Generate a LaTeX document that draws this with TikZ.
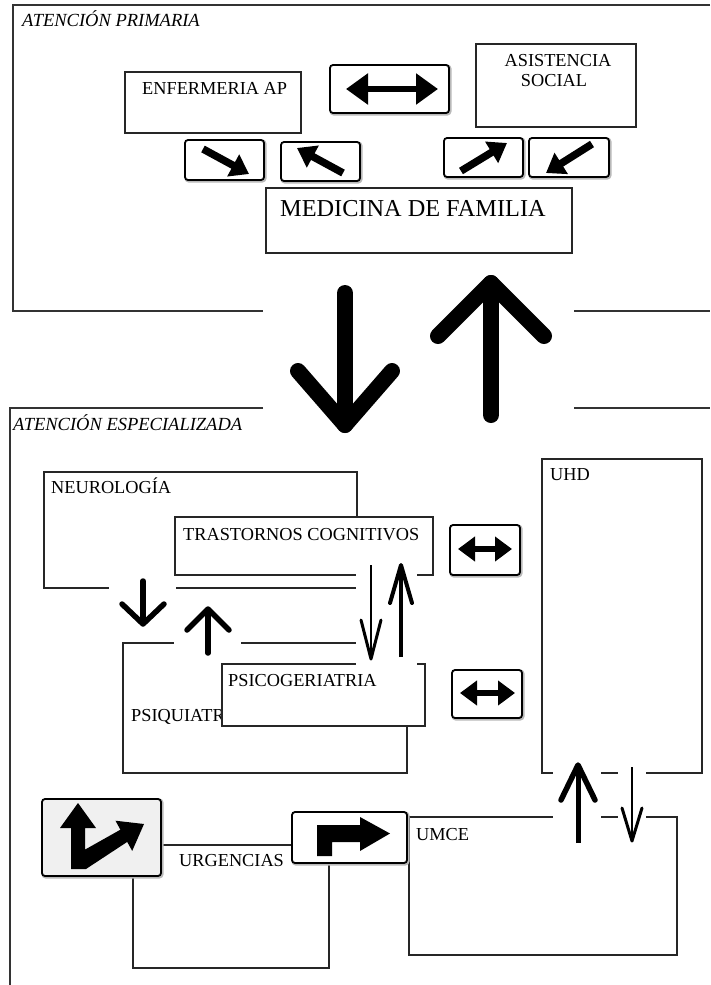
\documentclass[tikz,border=0pt]{standalone}
\usepackage{fontspec}
\setmainfont{Liberation Serif}
\usetikzlibrary{arrows.meta}
\newcommand{\signbox}[5][white]{%
  \draw[gray!55, line width=3.2pt, rounded corners=3pt] (#2+1,#3+1) rectangle (#4+1,#5+1);
  \draw[black, line width=1.8pt, rounded corners=3pt, fill=#1] (#2,#3) rectangle (#4,#5);}
\begin{document}
\begin{tikzpicture}[x=1pt,y=-1pt,
  frame/.style={draw=black!80, line width=1.4pt},
  box/.style={draw=black!85, line width=1.4pt, fill=white},
  lbl/.style={anchor=base west, inner sep=0pt, font=\fontsize{18.3}{20}\selectfont},
  clbl/.style={anchor=base, inner sep=0pt, font=\fontsize{18.3}{20}\selectfont},
  ttl/.style={anchor=base west, inner sep=0pt, font=\fontsize{18.5}{20}\selectfont\itshape},
  big/.style={line width=16pt, line cap=round, line join=round},
  midarr/.style={line width=5.5pt, line cap=round, line join=round},
  dbl/.style={line width=6pt, {Triangle[length=22pt,width=30pt]}-{Triangle[length=22pt,width=30pt]}},
  dbls/.style={line width=6.5pt, {Triangle[length=17pt,width=24pt]}-{Triangle[length=17pt,width=24pt]}},
  diag/.style={line width=7.5pt, -{Triangle[length=18pt,width=24pt]}}
]
\useasboundingbox (0,0) rectangle (710,985);
\fill[white] (0,0) rectangle (710,985);

% ---------- ATENCION PRIMARIA ----------
\draw[frame] (710,5) -- (13,5) -- (13,311) -- (263,311);
\draw[frame] (574,311) -- (710,311);
\node[ttl] (ap) at (22,27) {ATENCIÓN PRIMARIA};

\draw[box] (125,72) rectangle (301,133);
\node[lbl] (enf) at (142,94) {ENFERMERIA AP};
\draw[box] (476,44) rectangle (636,127);
\node[clbl] (asis1) at (558,66) {ASISTENCIA};
\node[clbl] (asis2) at (554,86) {SOCIAL};
\draw[box] (266,188) rectangle (572,253);
\node[lbl, font=\fontsize{24.3}{26}\selectfont] (mf) at (280,216) {MEDICINA DE FAMILIA};

\signbox{330}{65}{449}{113}
\draw[dbl] (346,89) -- (438,89);
\signbox{185}{140}{264}{180}
\draw[diag] (203,149) -- (249,174);
\signbox{281}{142}{360}{181}
\draw[diag] (343,173) -- (297,148);
\signbox{444}{138}{523}{177}
\draw[diag] (461,171) -- (507,143);
\signbox{529}{138}{609}{177}
\draw[diag] (592,144) -- (546,173);

% ---------- big arrows ----------
\draw[big] (345,293) -- (345,425);
\draw[big] (298,371) -- (345,425) -- (392,371);
\draw[big] (491,415) -- (491,283);
\draw[big] (438,336) -- (491,283) -- (544,336);

% ---------- ATENCION ESPECIALIZADA ----------
\draw[frame] (263,408) -- (10,408) -- (10,985);
\draw[frame] (574,408) -- (710,408);
\node[ttl] (ae) at (13,430) {ATENCIÓN ESPECIALIZADA};

\draw[box] (44,472) rectangle (357,588);
\node[lbl] (neu) at (51,493) {NEUROLOGÍA};
\draw[box] (175,517) rectangle (433,575);
\node[lbl] (tc) at (183,540) {TRASTORNOS COGNITIVOS};
\draw[box] (123,643) rectangle (407,773);
\node[lbl] (psq) at (131,721) {PSIQUIATRÍA};
\draw[box] (222,664) rectangle (425,726);
\node[lbl] (psg) at (228,686) {PSICOGERIATRIA};

% left arrows
\fill[white] (109,576) rectangle (176,634);
\fill[white] (174,598) rectangle (241,662);
\draw[midarr] (143,581) -- (143,622);
\draw[midarr] (122,604) -- (143,624) -- (164,604);
\draw[midarr] (208,653) -- (208,612);
\draw[midarr] (187,630) -- (208,609) -- (229,630);

% middle arrows
\fill[white] (356,558) rectangle (417,668);
\draw[line width=2.2pt] (371,565) -- (371,656);
\draw[line width=3pt, line cap=round, line join=round] (361,620) -- (371,659) -- (381,620);
\draw[line width=3.5pt] (401,657) -- (401,568);
\draw[line width=4pt, line cap=round, line join=round] (390,603) -- (401,565) -- (412,603);

% double arrows to UHD
\signbox{450}{525}{520}{575}
\draw[dbls] (458,549) -- (512,549);
\signbox{452}{670}{522}{718}
\draw[dbls] (460,693) -- (515,693);

% UHD / UMCE
\draw[box] (542,459) rectangle (702,773);
\node[lbl] (uhd) at (550,480) {UHD};
\draw[box] (409,817) rectangle (677,955);
\node[lbl] (umce) at (416,840) {UMCE};
\fill[white] (553,756) rectangle (601,850);
\fill[white] (618,756) rectangle (646,850);
\draw[line width=5pt] (578,843) -- (578,768);
\draw[line width=5.5pt, line cap=round, line join=round] (561,800) -- (578,765) -- (595,800);
\draw[line width=2.5pt] (632,767) -- (632,838);
\draw[line width=3pt, line cap=round, line join=round] (622,808) -- (632,841) -- (642,808);

% URGENCIAS
\draw[draw=black!85, line width=1.4pt] (133,845) rectangle (329,968);
\node[lbl] (urg) at (179,866) {URGENCIAS};
\signbox[gray!12]{42}{799}{161}{876}
\fill[black] (71,869) -- (71,828) -- (60,828) -- (78,803) -- (96,828) -- (85,828) -- (85,849.6)
  -- (120.4,829.7) -- (115.5,820.7) -- (144,824) -- (132.2,850.9) -- (127.2,841.9)
  -- (86,869) -- cycle;
\signbox{292}{812}{407}{863}
\fill[black] (317,856) -- (317,825) -- (360,825) -- (360,817) -- (390,833.5) -- (360,851)
  -- (360,842) -- (332,842) -- (332,856) -- cycle;
\end{tikzpicture}
\end{document}
